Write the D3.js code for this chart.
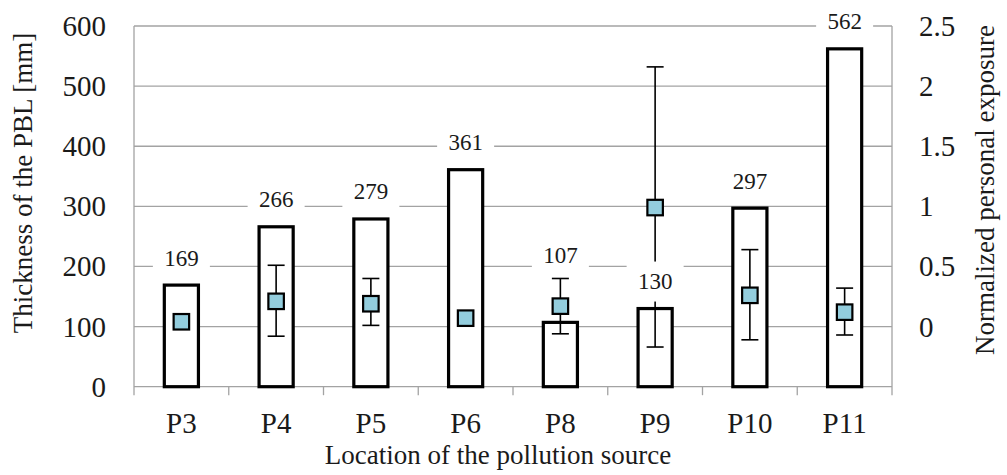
<!DOCTYPE html>
<html>
<head>
<meta charset="utf-8">
<script src="https://cdn.jsdelivr.net/npm/d3@7"></script>
<style>
  html, body { margin: 0; padding: 0; background: #fff; }
  svg { display: block; }
</style>
</head>
<body>
<svg id="chart" width="1007" height="475"></svg>
<script>
// ---- data ----
const categories = ["P3", "P4", "P5", "P6", "P8", "P9", "P10", "P11"];
const pblThickness = [169, 266, 279, 361, 107, 130, 297, 562];
const exposureMean = [0.04, 0.21, 0.19, 0.07, 0.17, 0.99, 0.26, 0.12];
const exposureUpper = [null, 0.51, 0.40, null, 0.40, 2.16, 0.64, 0.32];
const exposureLower = [null, -0.08, 0.01, null, -0.06, -0.17, -0.11, -0.07];
const leftTicks = [0, 100, 200, 300, 400, 500, 600];
const rightTicks = [0, 0.5, 1, 1.5, 2, 2.5];
const xTitle = "Location of the pollution source";
const yLeftTitle = "Thickness of the PBL [mm]";
const yRightTitle = "Normalized personal exposure";

// ---- layout ----
const FONT = "'Liberation Serif', 'Times New Roman', Tinos, 'DejaVu Serif', 'Noto Serif', serif";
const svg = d3.select("#chart").attr("font-family", FONT);
const plot = { left: 134, right: 892, top: 26, bottom: 386.7 };

const x = d3.scaleBand()
  .domain(categories)
  .range([plot.left, plot.right])
  .paddingInner(0.64)
  .paddingOuter(0.32);
const step = x.step();
const cx = c => x(c) + x.bandwidth() / 2;

const yL = d3.scaleLinear().domain([0, 600]).range([plot.bottom, plot.top]);
const yR = d3.scaleLinear().domain([-0.5, 2.5]).range([plot.bottom, plot.top]);

const grid = "#a3a3a3";
const txt = "#1a1a1a";

// gridlines
svg.append("g").selectAll("line").data(leftTicks.filter(d => d > 0)).join("line")
  .attr("x1", plot.left).attr("x2", plot.right)
  .attr("y1", d => yL(d)).attr("y2", d => yL(d))
  .attr("stroke", grid).attr("stroke-width", 1.3);

// axis lines (left, right, bottom)
const axG = svg.append("g").attr("stroke", grid).attr("stroke-width", 1.3);
axG.append("line").attr("x1", plot.left).attr("x2", plot.left).attr("y1", plot.top).attr("y2", plot.bottom + 8.5);
axG.append("line").attr("x1", plot.right).attr("x2", plot.right).attr("y1", plot.top).attr("y2", plot.bottom + 8.5);
axG.append("line").attr("x1", plot.left).attr("x2", plot.right).attr("y1", plot.bottom).attr("y2", plot.bottom);
// category boundary ticks
axG.selectAll("line.tk").data(categories.slice(1)).join("line").attr("class", "tk")
  .attr("x1", d => cx(d) - step / 2).attr("x2", d => cx(d) - step / 2)
  .attr("y1", plot.bottom).attr("y2", plot.bottom + 8.5);

// left tick labels
svg.append("g").selectAll("text").data(leftTicks).join("text")
  .attr("x", 106).attr("y", d => yL(d))
  .attr("text-anchor", "end").attr("dominant-baseline", "central")
  .attr("font-size", 29).attr("fill", txt).text(d => d);

// right tick labels
svg.append("g").selectAll("text").data(rightTicks).join("text")
  .attr("x", 919).attr("y", d => yR(d))
  .attr("text-anchor", "start").attr("dominant-baseline", "central")
  .attr("font-size", 29).attr("fill", txt).text(d => d3.format("~g")(d));

// category labels
svg.append("g").selectAll("text").data(categories).join("text")
  .attr("x", d => cx(d)).attr("y", 423)
  .attr("text-anchor", "middle").attr("dominant-baseline", "central")
  .attr("font-size", 29).attr("fill", txt).text(d => d);

// bars
svg.append("g").selectAll("rect").data(categories).join("rect")
  .attr("x", d => x(d)).attr("width", x.bandwidth())
  .attr("y", (d, i) => yL(pblThickness[i]))
  .attr("height", (d, i) => yL(0) - yL(pblThickness[i]))
  .attr("fill", "#fff").attr("stroke", "#000").attr("stroke-width", 3.2);

// error bars
const eb = svg.append("g").attr("stroke", "#000").attr("stroke-width", 1.6);
categories.forEach((c, i) => {
  if (exposureUpper[i] == null) return;
  const xc = cx(c);
  eb.append("line").attr("x1", xc).attr("x2", xc)
    .attr("y1", yR(exposureUpper[i])).attr("y2", yR(exposureLower[i]));
  [exposureUpper[i], exposureLower[i]].forEach(v => {
    eb.append("line").attr("x1", xc - 8.5).attr("x2", xc + 8.5)
      .attr("y1", yR(v)).attr("y2", yR(v));
  });
});

// markers
const ms = 15.5;
svg.append("g").selectAll("rect").data(categories).join("rect")
  .attr("x", d => cx(d) - ms / 2)
  .attr("y", (d, i) => yR(exposureMean[i]) - ms / 2)
  .attr("width", ms).attr("height", ms)
  .attr("fill", "#93cddd").attr("stroke", "#000").attr("stroke-width", 2.2);

// value labels with white boxes
const lab = svg.append("g");
categories.forEach((c, i) => {
  const offset = c === "P8" ? 67 : 27; // P8 label lifted above its error bar
  const ly = yL(pblThickness[i]) - offset;
  const g = lab.append("g");
  g.append("rect").attr("x", cx(c) - 28.5).attr("y", ly - 20)
    .attr("width", 57).attr("height", 40).attr("fill", "#fff");
  g.append("text").attr("x", cx(c)).attr("y", ly)
    .attr("text-anchor", "middle").attr("dominant-baseline", "central")
    .attr("font-size", 23).attr("fill", txt).text(pblThickness[i]);
});

// axis titles
svg.append("text").attr("x", 498).attr("y", 455)
  .attr("text-anchor", "middle").attr("dominant-baseline", "central")
  .attr("font-size", 27).attr("fill", txt).text(xTitle);

svg.append("text").attr("transform", "translate(23,183) rotate(-90)")
  .attr("text-anchor", "middle").attr("dominant-baseline", "central")
  .attr("font-size", 27).attr("fill", txt).text(yLeftTitle);

svg.append("text").attr("transform", "translate(985,190) rotate(-90)")
  .attr("text-anchor", "middle").attr("dominant-baseline", "central")
  .attr("font-size", 27).attr("fill", txt).text(yRightTitle);
</script>
</body>
</html>
